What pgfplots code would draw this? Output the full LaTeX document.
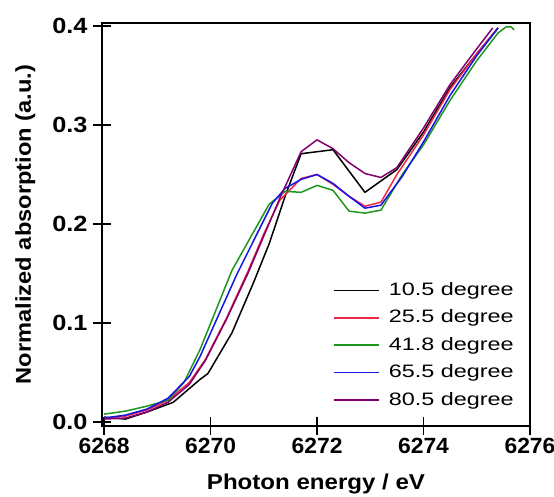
\documentclass[border=0pt]{standalone}
\usepackage{fontspec}
\setmainfont{Liberation Sans}
\usepackage{graphicx}
\usepackage{pgfplots}
\pgfplotsset{compat=1.18}
\definecolor{cred}{RGB}{240,40,70}
\definecolor{cgreen}{RGB}{30,150,30}
\definecolor{cblue}{RGB}{20,20,230}
\definecolor{cpurple}{RGB}{130,0,110}
\newcommand{\leg}[1]{\hspace{9pt}\scalebox{1.3}[1]{#1}}
\begin{document}
\begin{tikzpicture}[x=1pt,y=1pt]
\useasboundingbox (0,0) rectangle (554,496);
\begin{axis}[
  at={(102pt,70pt)}, anchor=south west,
  scale only axis, width=428pt, height=403pt,
  xmin=6267.96, xmax=6276, ymin=-0.004, ymax=0.403,
  xtick={6268,6270,6272,6274,6276}, ytick={0,0.1,0.2,0.3,0.4},
  tick align=center, major tick length=18pt,
  tick style={line width=1.8pt, black},
  xtick pos=bottom, ytick pos=left,
  axis line style={line width=1.8pt},
  /pgf/number format/assume math mode=true,
  ticklabel style={font=\fontsize{22}{25}\selectfont\bfseries},
  xticklabel={\scalebox{1.04}[1]{\pgfmathprintnumber[1000 sep={}]{\tick}}},
  yticklabel={\scalebox{1.15}[1]{\pgfmathprintnumber[fixed,fixed zerofill,precision=1]{\tick}}},
  yticklabel style={xshift=-2pt},
  xlabel={\scalebox{1.12}[1]{Photon energy / eV}},
  ylabel={\scalebox{1.1}[1]{Normalized absorption (a.u.)}},
  label style={font=\fontsize{21.5}{24}\selectfont\bfseries},
  xlabel style={at={(axis description cs:0.5,-0.157)}, anchor=base},
  ylabel style={at={(axis description cs:-0.166,0.5)}, anchor=base},
  legend style={at={(0.54,0.358)}, anchor=north west, draw=none, fill=none,
    font=\fontsize{18}{20}\selectfont, inner sep=0pt,
    nodes={inner sep=0pt, text height=13.5pt, text depth=3.5pt},
    row sep=10.4pt, column sep=0pt},
  legend cell align=left,
  legend image code/.code={\draw[#1, line width=1.5pt] (0pt,0pt) -- (45pt,0pt);},
  every axis plot/.append style={line width=1.5pt, line join=round, no marks},
]
\addplot[black] coordinates {
(6268.0,0.005) (6268.4,0.003) (6268.8,0.010) (6269.3,0.020) (6269.8,0.043)
(6269.95,0.049) (6270.4,0.090) (6270.8,0.140) (6271.1,0.180) (6271.4,0.228)
(6271.7,0.271) (6272.3,0.275) (6272.9,0.232) (6273.5,0.255) (6274.0,0.293)
(6274.5,0.338) (6275.0,0.372) (6275.4,0.398)};
\addlegendentry{\leg{10.5 degree}}
\addplot[cred] coordinates {
(6268.0,0.004) (6268.4,0.006) (6268.8,0.012) (6269.2,0.022) (6269.6,0.040)
(6269.9,0.063) (6270.3,0.105) (6270.7,0.152) (6271.0,0.190) (6271.3,0.224)
(6271.7,0.246) (6272.0,0.250) (6272.3,0.240) (6272.6,0.228) (6272.9,0.218)
(6273.2,0.222) (6273.5,0.250) (6274.0,0.290) (6274.5,0.336) (6275.0,0.372)
(6275.4,0.398)};
\addlegendentry{\leg{25.5 degree}}
\addplot[cgreen] coordinates {
(6268.0,0.008) (6268.4,0.011) (6268.8,0.016) (6269.2,0.022) (6269.5,0.040)
(6269.8,0.073) (6270.4,0.153) (6271.1,0.220) (6271.4,0.233) (6271.7,0.232)
(6272.0,0.239) (6272.3,0.234) (6272.6,0.213) (6272.9,0.211) (6273.2,0.214)
(6273.6,0.250) (6274.0,0.280) (6274.5,0.325) (6275.0,0.365) (6275.4,0.393)
(6275.55,0.399) (6275.65,0.399) (6275.7,0.396)};
\addlegendentry{\leg{41.8 degree}}
\addplot[cblue] coordinates {
(6268.0,0.004) (6268.4,0.007) (6268.8,0.013) (6269.2,0.024) (6269.6,0.046)
(6269.8,0.066) (6270.5,0.150) (6271.16,0.221) (6271.4,0.236) (6271.7,0.245)
(6272.0,0.250) (6272.3,0.241) (6272.6,0.228) (6272.9,0.216) (6273.2,0.219)
(6273.6,0.248) (6274.0,0.283) (6274.5,0.330) (6275.0,0.370) (6275.4,0.398)};
\addlegendentry{\leg{65.5 degree}}
\addplot[cpurple] coordinates {
(6268.0,0.003) (6268.4,0.004) (6268.8,0.010) (6269.2,0.020) (6269.6,0.038)
(6269.9,0.062) (6270.3,0.104) (6270.7,0.150) (6271.0,0.188) (6271.3,0.226)
(6271.7,0.273) (6272.0,0.285) (6272.3,0.276) (6272.6,0.262) (6272.9,0.251)
(6273.2,0.247) (6273.5,0.257) (6274.0,0.297) (6274.5,0.341) (6275.0,0.377)
(6275.3,0.398)};
\addlegendentry{\leg{80.5 degree}}
\end{axis}
\end{tikzpicture}
\end{document}
